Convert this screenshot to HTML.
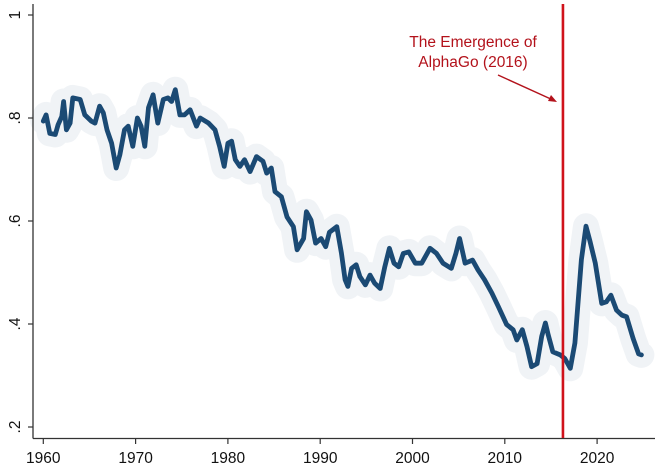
<!DOCTYPE html>
<html><head><meta charset="utf-8"><style>
html,body{margin:0;padding:0;background:#fff;}
svg{display:block;font-family:"Liberation Sans",sans-serif;}
</style></head><body>
<svg id="chart" width="658" height="470" xmlns="http://www.w3.org/2000/svg">
<g id="band"></g>
<g id="plot"></g>
<g id="axes"></g>
<line id="vline" stroke="#d0121b" stroke-width="2.6"/>
<text x="473" y="47" text-anchor="middle" font-size="15.5" fill="#b3121b">The Emergence of</text>
<text x="473" y="67" text-anchor="middle" font-size="15.5" fill="#b3121b">AlphaGo (2016)</text>
<g>
<line x1="498" y1="75" x2="553" y2="100" stroke="#b3121b" stroke-width="1.4"/>
<polygon points="557,102 548,101 551,95" fill="#b3121b"/>
</g>
</svg>
<script>
const years=[1960.0,1960.3,1960.7,1961.3,1961.6,1962.0,1962.2,1962.5,1962.9,1963.2,1964.0,1964.5,1965.2,1965.6,1966.1,1966.5,1966.9,1967.4,1967.9,1968.3,1968.8,1969.2,1969.7,1970.2,1970.6,1971.0,1971.4,1971.9,1972.4,1973.0,1973.5,1973.9,1974.3,1974.8,1975.3,1975.9,1976.6,1977.0,1977.9,1978.6,1979.1,1979.6,1980.0,1980.4,1980.8,1981.3,1981.8,1982.4,1983.1,1983.8,1984.2,1984.7,1985.1,1985.8,1986.4,1987.1,1987.5,1988.2,1988.5,1989.0,1989.5,1990.1,1990.6,1991.0,1991.8,1992.3,1992.7,1993.0,1993.4,1993.9,1994.3,1994.9,1995.4,1995.9,1996.5,1997.0,1997.5,1998.0,1998.5,1999.0,1999.6,2000.3,2001.0,2001.9,2002.6,2003.3,2004.2,2004.7,2005.1,2005.7,2006.5,2007.1,2007.8,2008.6,2009.3,2010.2,2010.9,2011.3,2011.9,2012.4,2012.9,2013.5,2014.0,2014.4,2014.7,2015.2,2016.0,2016.5,2017.1,2017.6,2018.3,2018.8,2019.2,2019.8,2020.5,2021.0,2021.5,2022.1,2022.7,2023.2,2023.9,2024.5,2024.8];
const values=[0.794,0.806,0.77,0.768,0.787,0.803,0.832,0.777,0.79,0.839,0.836,0.806,0.794,0.79,0.823,0.81,0.777,0.751,0.703,0.729,0.777,0.784,0.745,0.80,0.784,0.745,0.82,0.845,0.79,0.836,0.839,0.832,0.855,0.806,0.806,0.816,0.784,0.80,0.79,0.777,0.745,0.706,0.751,0.755,0.719,0.706,0.719,0.696,0.725,0.716,0.693,0.703,0.657,0.647,0.608,0.589,0.544,0.566,0.618,0.602,0.557,0.566,0.55,0.578,0.589,0.538,0.486,0.473,0.508,0.515,0.492,0.476,0.495,0.479,0.469,0.511,0.547,0.518,0.511,0.537,0.540,0.518,0.518,0.547,0.537,0.518,0.508,0.537,0.566,0.518,0.524,0.505,0.486,0.46,0.434,0.399,0.389,0.369,0.389,0.356,0.317,0.323,0.376,0.402,0.379,0.346,0.340,0.333,0.314,0.363,0.525,0.59,0.563,0.518,0.44,0.443,0.456,0.427,0.417,0.414,0.372,0.342,0.340];
const xTicks=[1960,1970,1980,1990,2000,2010,2020];
const yTicks=[0.2,0.4,0.6,0.8,1];
const yTickLabels=[".2",".4",".6",".8","1"];
const eventYear=[2016.3];

const NS="http://www.w3.org/2000/svg";
const X=y=>43.3+(y-1960)*9.23;
const Y=v=>15+(1-v)*515;
function mk(t,a,p){const e=document.createElementNS(NS,t);for(const k in a)e.setAttribute(k,a[k]);p.appendChild(e);return e;}

const d=years.map((yr,i)=>(i?"L":"M")+X(yr).toFixed(1)+","+Y(values[i]).toFixed(1)).join("");
const band=document.getElementById('band');
const b=mk('path',{d:d,fill:"none",stroke:"#f0f3f6","stroke-width":"26","stroke-linejoin":"round","stroke-linecap":"round"},band);


const plot=document.getElementById('plot');
const ln=mk('path',{d:d,fill:"none",stroke:"#1b4a74","stroke-width":"4.8","stroke-linejoin":"round","stroke-linecap":"round"},plot);



const axes=document.getElementById('axes');
const ya=mk('line',{x1:33,y1:4,x2:33,y2:438.5,stroke:"#333","stroke-width":"1.3"},axes);


const xa=mk('line',{x1:33,y1:438.5,x2:655,y2:438.5,stroke:"#333","stroke-width":"1.3"},axes);


xTicks.forEach(t=>{
  const tk=mk('line',{x1:X(t),y1:438.5,x2:X(t),y2:444,stroke:"#333","stroke-width":"1.2"},axes);
  
  
  const tx=mk('text',{x:X(t),y:463,"text-anchor":"middle","font-size":"15.5",fill:"#111"},axes);
  
  
  tx.textContent=t;
});
yTicks.forEach((t,i)=>{
  const tk=mk('line',{x1:28,y1:Y(t),x2:33,y2:Y(t),stroke:"#333","stroke-width":"1.2"},axes);
  
  
  const tx=mk('text',{x:0,y:0,"text-anchor":"middle","font-size":"15.5",fill:"#111",transform:`translate(20,${Y(t)}) rotate(-90)`},axes);
  
  
  tx.textContent=yTickLabels[i];
});
const vl=document.getElementById('vline');
vl.setAttribute('x1',X(eventYear[0]));vl.setAttribute('x2',X(eventYear[0]));
vl.setAttribute('y1',4);vl.setAttribute('y2',438);
</script>
</body></html>
